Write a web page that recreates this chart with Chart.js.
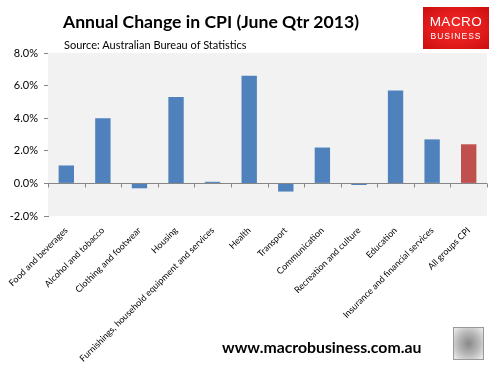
<!DOCTYPE html>
<html>
<head>
<meta charset="utf-8">
<script src="https://cdn.jsdelivr.net/npm/chart.js@4"></script>
<style>
  body { margin: 0; background: #fff; font-family: Lato, 'Open Sans', sans-serif; }
  #wrap { position: relative; width: 498px; height: 367px; overflow: hidden; }
  #cpiChart { position: absolute; left: 0; top: 0; }
  .title { position: absolute; left: 63px; top: 11px; font-size: 17.6px; font-weight: bold; color: #000; white-space: nowrap; }
  .source { position: absolute; left: 64px; top: 38px; font-size: 11px; color: #000; white-space: nowrap; }
  .logo { position: absolute; left: 423px; top: 7px; width: 66px; height: 42px;
          background: radial-gradient(ellipse at center, #f22a2a 0%, #e11a1a 60%, #c80e0e 100%);
          color: #fff; text-align: center; font-family: 'Liberation Sans', Arial, sans-serif; }
  .logo .m { font-size: 13.5px; margin-top: 8px; line-height: 14px; letter-spacing: 0.5px; font-weight: normal; }
  .logo .b { font-size: 8.5px; margin-top: 2px; line-height: 10px; letter-spacing: 1px; }
  .footer { position: absolute; left: 222px; top: 337px; font-size: 15.8px; font-weight: bold; color: #000; white-space: nowrap; }
  .wolf { position: absolute; left: 453px; top: 327px; width: 29px; height: 31px; border: 1px solid #999;
          background: radial-gradient(ellipse at center, #888 0%, #bbb 55%, #eee 100%); }
</style>
</head>
<body>
<div id="wrap">
  <canvas id="cpiChart" width="498" height="367"></canvas>
  <div class="title">Annual Change in CPI (June Qtr 2013)</div>
  <div class="source">Source: Australian Bureau of Statistics</div>
  <div class="logo"><div class="m">MACRO</div><div class="b">BUSINESS</div></div>
  <div class="footer">www.macrobusiness.com.au</div>
  <div class="wolf"></div>
</div>
<script>
// Annual % change by CPI group, June quarter 2013
const categories = [
  'Food and beverages', 'Alcohol and tobacco', 'Clothing and footwear', 'Housing',
  'Furnishings, household equipment and services', 'Health', 'Transport', 'Communication',
  'Recreation and culture', 'Education', 'Insurance and financial services', 'All groups CPI'
];
const annualChange = [1.1, 4.0, -0.3, 5.3, 0.1, 6.6, -0.5, 2.2, -0.1, 5.7, 2.7, 2.4];
const yTicks = [-2, 0, 2, 4, 6, 8];

const barColors = categories.map(c => c === 'All groups CPI' ? '#c0504d' : '#4f81bd');

// plot area fill + zero line with category tick marks
const plotDecor = {
    id: 'plotDecor',
    beforeDatasetsDraw(chart) {
        const { ctx, chartArea: a } = chart;
        ctx.save();
        ctx.fillStyle = '#f2f2f2';
        ctx.fillRect(a.left, a.top, a.right - a.left, a.bottom - a.top);
        ctx.restore();
    },
    afterDatasetsDraw(chart) {
        const { ctx, chartArea: a, scales } = chart;
        const y0 = Math.round(scales.y.getPixelForValue(0)) + 0.5;
        ctx.save();
        ctx.strokeStyle = '#868686';
        ctx.lineWidth = 1;
        ctx.beginPath();
        ctx.moveTo(a.left, y0);
        ctx.lineTo(a.right, y0);
        const n = categories.length;
        for (let i = 0; i <= n; i++) {
            const x = Math.round(scales.x.getPixelForValue(i - 0.5)) + 0.5;
            ctx.moveTo(x, y0);
            ctx.lineTo(x, y0 + 4);
        }
        ctx.stroke();
        ctx.restore();
    }
};

new Chart(document.getElementById('cpiChart').getContext('2d'), {
    type: 'bar',
    data: {
        labels: categories,
        datasets: [{
            data: annualChange,
            backgroundColor: barColors,
            borderWidth: 0,
            barPercentage: 0.42,
            categoryPercentage: 1
        }]
    },
    options: {
        responsive: false,
        animation: false,
        layout: { padding: { top: 53, right: 11, left: 0, bottom: 0 } },
        plugins: { legend: { display: false }, tooltip: { enabled: false } },
        scales: {
            x: {
                grid: { display: false },
                border: { display: false },
                afterFit: s => { s.height = 151; },
                ticks: {
                    autoSkip: false,
                    minRotation: 45,
                    maxRotation: 45,
                    padding: 1,
                    color: '#000',
                    font: { family: 'Lato', size: 9 }
                }
            },
            y: {
                min: -2,
                max: 8,
                afterFit: s => { s.width = 48; },
                afterBuildTicks: s => { s.ticks = yTicks.map(v => ({ value: v })); },
                grid: { drawOnChartArea: false, drawTicks: true, tickLength: 4, color: '#868686' },
                border: { color: '#868686' },
                ticks: {
                    padding: 6,
                    color: '#000',
                    font: { family: 'Lato', size: 11 },
                    callback: v => v.toFixed(1) + '%'
                }
            }
        }
    },
    plugins: [plotDecor]
});
</script>
</body>
</html>
